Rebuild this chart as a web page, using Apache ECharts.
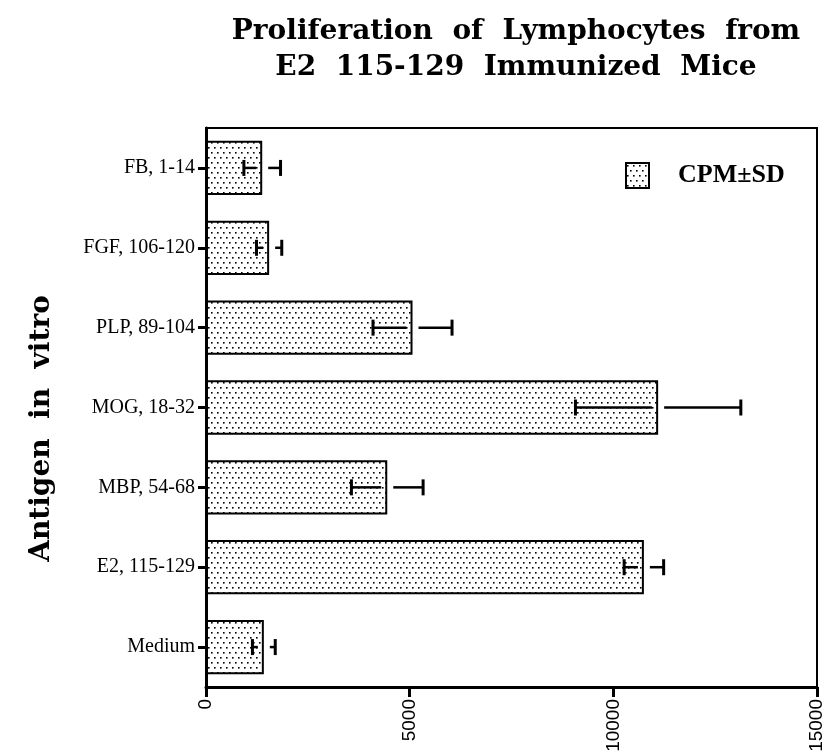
<!DOCTYPE html>
<html>
<head>
<meta charset="utf-8">
<script src="https://cdn.jsdelivr.net/npm/echarts@6/dist/echarts.min.js"></script>
<style>
  html, body { margin: 0; padding: 0; background: #fff; }
  #chart { width: 829px; height: 755px; }
</style>
</head>
<body>
<div id="chart"></div>
<script>
// antigens, top to bottom
const categories = ['FB, 1-14', 'FGF, 106-120', 'PLP, 89-104', 'MOG, 18-32', 'MBP, 54-68', 'E2, 115-129', 'Medium'];
const cpmMeans = [1380, 1550, 5070, 11100, 4450, 10750, 1420];
const cpmSD = [450, 310, 970, 2030, 880, 485, 280];
const xTicks = [0, 5000, 10000, 15000];

// stipple fill like the printed figure
function dotPattern() {
  const c = document.createElement('canvas');
  c.width = 6; c.height = 10;
  const g = c.getContext('2d');
  g.fillStyle = '#fff';
  g.fillRect(0, 0, 6, 10);
  g.fillStyle = '#000';
  g.fillRect(1, 2, 1.6, 1.6);
  g.fillRect(4, 7, 1.6, 1.6);
  return c;
}

const myChart = echarts.init(document.getElementById('chart'));
const serif = '"Liberation Serif", "Times New Roman", serif';
const wideSerif = '"DejaVu Serif", serif';

myChart.setOption({
  animation: false,
  backgroundColor: '#fff',
  title: {
    text: 'Proliferation  of  Lymphocytes  from\nE2  115-129  Immunized  Mice',
    left: 511,
    top: 9,
    textAlign: 'center',
    textStyle: { fontFamily: wideSerif, fontWeight: 'bold', fontSize: 28, lineHeight: 36, color: '#000' }
  },
  legend: {
    data: ['CPM±SD'],
    left: 620,
    top: 157,
    itemWidth: 23,
    itemHeight: 25,
    icon: 'rect',
    textStyle: { fontFamily: serif, fontWeight: 'bold', fontSize: 26, color: '#000', padding: [0, 0, 0, 24] }
  },
  grid: {
    left: 206, right: 12, top: 128, bottom: 68,
    show: true, borderColor: '#000', borderWidth: 2
  },
  xAxis: {
    type: 'value',
    min: xTicks[0],
    max: xTicks[xTicks.length - 1],
    interval: 5000,
    splitLine: { show: false },
    axisLine: { show: true, lineStyle: { color: '#000', width: 3 } },
    axisTick: { show: true, length: 10, lineStyle: { color: '#000', width: 3 } },
    axisLabel: {
      rotate: 90, margin: 12, color: '#000', fontSize: 19,
      fontFamily: '"Liberation Sans", Arial, sans-serif',
      formatter: v => String(v)
    }
  },
  yAxis: {
    type: 'category',
    data: categories,
    inverse: true,
    name: 'Antigen  in  vitro',
    nameLocation: 'middle',
    nameGap: 150,
    nameTextStyle: { fontFamily: wideSerif, fontWeight: 'bold', fontSize: 28, color: '#000', padding: [0, 42, 0, 0] },
    axisLine: { show: true, lineStyle: { color: '#000', width: 3 } },
    axisTick: { show: true, alignWithLabel: true, length: 8, lineStyle: { color: '#000', width: 3 } },
    axisLabel: { color: '#000', fontSize: 20, fontFamily: serif, margin: 11 }
  },
  series: [
    {
      name: 'CPM±SD',
      type: 'bar',
      data: cpmMeans,
      barCategoryGap: '32%',
      itemStyle: {
        color: { image: dotPattern(), repeat: 'repeat' },
        borderColor: '#000',
        borderWidth: 2
      }
    },
    {
      name: 'SD',
      type: 'custom',
      z: 5,
      data: cpmMeans.map((m, i) => [m, i, cpmSD[i]]),
      renderItem: function (params, api) {
        const m = api.value(0), cat = api.value(1), s = api.value(2);
        const lo = api.coord([m - s, cat]);
        const mid = api.coord([m, cat]);
        const hi = api.coord([m + s, cat]);
        const y = mid[1], gap = 6, cap = 8;
        const st = { stroke: '#000', lineWidth: 2.5 };
        return {
          type: 'group',
          children: [
            { type: 'line', shape: { x1: lo[0], y1: y, x2: mid[0] - gap, y2: y }, style: st },
            { type: 'line', shape: { x1: mid[0] + gap, y1: y, x2: hi[0], y2: y }, style: st },
            { type: 'line', shape: { x1: lo[0], y1: y - cap, x2: lo[0], y2: y + cap }, style: { stroke: '#000', lineWidth: 3 } },
            { type: 'line', shape: { x1: hi[0], y1: y - cap, x2: hi[0], y2: y + cap }, style: { stroke: '#000', lineWidth: 3 } }
          ]
        };
      }
    }
  ]
});
</script>
</body>
</html>
